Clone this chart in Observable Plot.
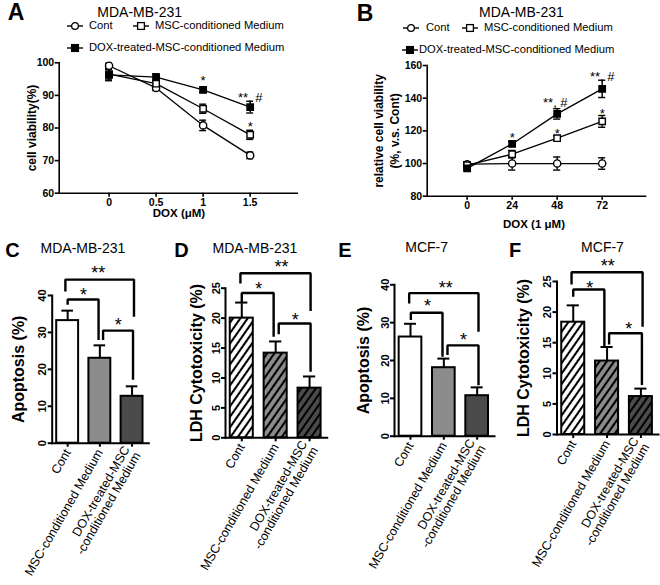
<!DOCTYPE html>
<html><head><meta charset="utf-8">
<script src="https://cdn.jsdelivr.net/npm/d3@7"></script>
<script src="https://cdn.jsdelivr.net/npm/@observablehq/plot@0.6"></script>
<style>
body{margin:0;background:#fff;}
#fig{position:relative;width:660px;height:585px;font-family:"Liberation Sans",Arial,sans-serif;overflow:hidden;background:#fff;color:#000;}
.abs{position:absolute;white-space:nowrap;line-height:1;}
</style></head><body><div id="fig"></div>
<script>
// ---------- data ----------
const seriesNames = ["Cont", "MSC-conditioned Medium", "DOX-treated-MSC-conditioned Medium"];
// Panel A: cell viability vs DOX dose
const doseA = [0, 0.5, 1, 1.5];
const contA = [99.1, 92.3, 80.8, 71.6];
const contAErr = [0.8, 0.8, 1.6, 1.0];
const mscA = [96.5, 93.6, 85.9, 77.9];
const mscAErr = [1.5, 1.0, 1.4, 1.4];
const doxA = [96.3, 95.6, 91.7, 86.4];
const doxAErr = [1.8, 1.0, 0.8, 1.8];
const yTicksA = [60, 70, 80, 90, 100];
const annotA = [{x: 1, y: 95.4, t: "*"}, {x: 1.5, y: 90.3, t: "**, #"}, {x: 1.5, y: 81.3, t: "*"}];
// Panel B: relative viability vs time
const timeB = [0, 24, 48, 72];
const contB = [99.6, 100, 100, 100];
const contBErr = [1.5, 4, 4, 3.5];
const mscB = [99, 105.7, 115.5, 125.8];
const mscBErr = [1, 2.3, 1.5, 3.6];
const doxB = [97, 112, 130.4, 145.7];
const doxBErr = [1, 1.5, 3.2, 5.3];
const yTicksB = [80, 100, 120, 140, 160];
const annotB = [{x: 24, y: 117.5, t: "*"}, {x: 47, y: 138.8, t: "**, #"}, {x: 72, y: 155, t: "**, #"}, {x: 48, y: 119.8, t: "*"}, {x: 72, y: 132.5, t: "*"}];
// Bar panels
const barLabels = ["Cont", "MSC-conditioned Medium", "DOX-treated-MSC\n-conditioned Medium"];
const apoMDA = [33.2, 23.0, 12.7];      const apoMDAErr = [2.7, 3.5, 2.7];
const ldhMDA = [20.0, 14.15, 8.3];      const ldhMDAErr = [2.6, 1.95, 1.95];
const apoMCF = [26.2, 18.1, 10.7];      const apoMCFErr = [3.5, 2.4, 2.2];
const ldhMCF = [18.35, 12.0, 6.2];      const ldhMCFErr = [2.75, 2.3, 1.3];
const apoTicks = [0, 10, 20, 30, 40];
const ldhTicks = [0, 5, 10, 15, 20, 25];
// significance brackets: [left x, right x, top, left-leg bottom, right-leg bottom]
const brC = [[0, 0.96, 38.9, 37.8, 28.3], [1.1, 2.03, 30.5, 28.3, 17.5], [-0.07, 2.06, 44.3, 41.4, 34.6]];
const brD = [[0, 0.94, 24.2, 22.9, 17.1], [1.09, 2.03, 19.1, 17.5, 11.25], [-0.04, 2.03, 27.5, 26.0, 21.4]];
const brE = [[0.01, 0.96, 32.6, 31.0, 21.3], [1.11, 2.04, 24.0, 21.8, 13.8], [-0.04, 2.04, 37.8, 35.4, 27.9]];
const brF = [[0, 0.92, 23.7, 22.7, 14.5], [1.06, 2.03, 16.55, 14.9, 8.3], [-0.05, 2.05, 26.5, 24.7, 17.8]];
const starsC = [{x: 0.49, y: 41.2, t: "*"}, {x: 1.57, y: 33.1, t: "*"}, {x: 0.95, y: 47.3, t: "**"}];
const starsD = [{x: 0.5, y: 25.6, t: "*"}, {x: 1.58, y: 20.45, t: "*"}, {x: 1.17, y: 29.2, t: "**"}];
const starsE = [{x: 0.51, y: 35.4, t: "*"}, {x: 1.59, y: 26.6, t: "*"}, {x: 1.06, y: 40.3, t: "**"}];
const starsF = [{x: 0.49, y: 24.6, t: "*"}, {x: 1.64, y: 17.9, t: "*"}, {x: 1.02, y: 28.3, t: "**"}];

// ---------- helpers ----------
const fig = document.getElementById("fig");
const FONT = '"Liberation Sans", Arial, sans-serif';
function place(node, left, top) {
  const w = document.createElement("div");
  w.style.cssText = `position:absolute;left:${left}px;top:${top}px;`;
  w.appendChild(node); fig.appendChild(w);
}
function txt(s, x, y, css, anchor) {
  const d = document.createElement("div");
  d.className = "abs"; d.textContent = s;
  const tx = anchor === "start" ? "0" : "-50%";
  d.style.cssText += `left:${x}px;top:${y}px;transform:translate(${tx},-50%);${css || ""}`;
  fig.appendChild(d);
}
function marker(kind) {
  const ns = "http://www.w3.org/2000/svg";
  const s = document.createElementNS(ns, "svg");
  s.setAttribute("width", 16); s.setAttribute("height", 10);
  s.style.display = "block";
  let shape = kind === "circle"
    ? `<circle cx="8" cy="5" r="3.4" fill="#fff" stroke="#000" stroke-width="1.3"/>`
    : `<rect x="4.6" y="1.6" width="6.8" height="6.8" fill="${kind === "filled" ? "#000" : "#fff"}" stroke="#000" stroke-width="1.3"/>`;
  s.innerHTML = `<line x1="0" x2="16" y1="5" y2="5" stroke="#000" stroke-width="1.4"/>` + shape;
  return s;
}
function legendItem(kind, label, mx, y, tx) {
  place(marker(kind), mx - 8, y - 5);
  txt(label, tx, y, "font-size:11.2px;", "start");
}
const rowsOf = (xs, ys, es, s) => xs.map((x, i) => ({x, y: ys[i], e: es[i], s}));

function linePanel(cfg) {
  const all = cfg.series.flatMap(s => s.rows);
  const c = cfg.cap;
  return Plot.plot({
    width: cfg.width, height: cfg.height,
    marginLeft: cfg.mL, marginRight: cfg.mR, marginTop: cfg.mT, marginBottom: cfg.mB,
    x: {domain: cfg.xDomain}, y: {domain: cfg.yDomain},
    style: {fontFamily: FONT, color: "#000", background: "none", overflow: "visible"},
    marks: [
      Plot.line(all, {x: "x", y: "y", z: "s", stroke: "#000", strokeWidth: 1.3}),
      Plot.ruleX(all, {x: "x", y1: d => d.y - d.e, y2: d => d.y + d.e, stroke: "#000", strokeWidth: 1.4}),
      Plot.ruleY(all, {y: d => d.y + d.e, x1: d => d.x - c, x2: d => d.x + c, stroke: "#000", strokeWidth: 1.4}),
      Plot.ruleY(all, {y: d => d.y - d.e, x1: d => d.x - c, x2: d => d.x + c, stroke: "#000", strokeWidth: 1.4}),
      ...cfg.series.map(s => Plot.dot(s.rows, {x: "x", y: "y", symbol: s.symbol, r: 3.6, fill: s.fill, stroke: "#000", strokeWidth: 1.4})),
      Plot.text(cfg.annots, {x: "x", y: "y", text: "t", fontSize: 13, dy: 3}),
      Plot.axisY({ticks: cfg.yTicks, tickSize: 4, tickPadding: 1, fontSize: 10.5, fontWeight: "bold", label: null, strokeWidth: 1.6}),
      Plot.axisX({ticks: cfg.xTicks, tickSize: 4, tickPadding: 1, fontSize: 10.5, fontWeight: "bold", label: null, strokeWidth: 1.6, tickFormat: d => String(d)}),
      Plot.frame({anchor: "left", strokeWidth: 1.6}),
      Plot.frame({anchor: "bottom", strokeWidth: 1.6}),
      Plot.text([cfg.yLabel], {text: d => d, frameAnchor: "left", textAnchor: "middle", lineAnchor: "middle", rotate: -90, dx: cfg.ldx, fontSize: 12, fontWeight: "bold", lineHeight: 1.38})
    ]
  });
}

function barPanel(cfg) {
  const rows = cfg.values.map((v, i) => ({i, v, e: cfg.errs[i], f: cfg.fills[i]}));
  const hw = 0.34, cap = 0.18;
  const bpts = cfg.brackets.flatMap((b, k) => [
    {k, x: b[0], y: b[3]}, {k, x: b[0], y: b[2]}, {k, x: b[1], y: b[2]}, {k, x: b[1], y: b[4]}
  ]);
  const svg = Plot.plot({
    width: cfg.width, height: 335,
    marginLeft: cfg.mL, marginRight: cfg.mR, marginTop: cfg.mT, marginBottom: cfg.mB,
    x: {domain: [-0.48, 2.52]}, y: {domain: cfg.yDomain},
    color: {type: "identity"},
    style: {fontFamily: FONT, color: "#000", background: "none", overflow: "visible"},
    marks: [
      Plot.ruleX(rows, {x: "i", y1: "v", y2: d => d.v + d.e, stroke: "#000", strokeWidth: 2}),
      Plot.ruleY(rows, {y: d => d.v + d.e, x1: d => d.i - cap, x2: d => d.i + cap, stroke: "#000", strokeWidth: 2}),
      Plot.rect(rows, {x1: d => d.i - hw, x2: d => d.i + hw, y1: 0, y2: "v", fill: "f", stroke: "#000", strokeWidth: 2}),
      Plot.line(bpts, {x: "x", y: "y", z: "k", stroke: "#000", strokeWidth: 2.4, strokeLinejoin: "miter", strokeLinecap: "square"}),
      Plot.text(cfg.stars, {x: "x", y: "y", text: "t", fontSize: 18, dy: 4.5}),
      Plot.axisY({ticks: cfg.yTicks, tickSize: 4, tickPadding: 2, tickRotate: -90, fontSize: 11, fontWeight: "bold", label: null, strokeWidth: 2}),
      Plot.axisX({ticks: [0, 1, 2], tickFormat: i => barLabels[i], tickRotate: -60, tickSize: 4, tickPadding: 3, fontSize: 12.5, label: null, strokeWidth: 2}),
      Plot.frame({anchor: "left", strokeWidth: 2}),
      Plot.frame({anchor: "bottom", strokeWidth: 2}),
      Plot.text([cfg.yLabel], {text: d => d, frameAnchor: "left", textAnchor: "middle", lineAnchor: "middle", rotate: -90, dx: cfg.ldx, fontSize: 16, fontWeight: "bold"})
    ]
  });
  if (cfg.patterns) {
    const defs = d3.select(svg).insert("defs", ":first-child");
    cfg.patterns.forEach(p => {
      const pat = defs.append("pattern").attr("id", p.id).attr("patternUnits", "userSpaceOnUse")
        .attr("width", 6).attr("height", 6).attr("patternTransform", "rotate(35)");
      pat.append("rect").attr("width", 6).attr("height", 6).attr("fill", p.bg);
      pat.append("line").attr("x1", 3).attr("x2", 3).attr("y1", -1).attr("y2", 7).attr("stroke", "#000").attr("stroke-width", 2.1);
    });
  }
  return svg;
}

// ---------- panel A ----------
place(linePanel({
  width: 330, height: 232, mL: 58.7, mR: 33.3, mT: 62.3, mB: 39.3,
  xDomain: [-0.53, 2.0], yDomain: [60, 100], xTicks: doseA, yTicks: yTicksA, cap: 0.037,
  series: [
    {rows: rowsOf(doseA, contA, contAErr, seriesNames[0]), symbol: "circle", fill: "#fff"},
    {rows: rowsOf(doseA, mscA, mscAErr, seriesNames[1]), symbol: "square", fill: "#fff"},
    {rows: rowsOf(doseA, doxA, doxAErr, seriesNames[2]), symbol: "square", fill: "#000"}
  ],
  annots: annotA, yLabel: "cell viability(%)", ldx: -28.7
}), 0, 0);

// ---------- panel B ----------
place(linePanel({
  width: 330, height: 240, mL: 96.7, mR: 15, mT: 65, mB: 44.3,
  xDomain: [-21.3, 95.1], yDomain: [80, 160], xTicks: timeB, yTicks: yTicksB, cap: 1.9,
  series: [
    {rows: rowsOf(timeB, contB, contBErr, seriesNames[0]), symbol: "circle", fill: "#fff"},
    {rows: rowsOf(timeB, mscB, mscBErr, seriesNames[1]), symbol: "square", fill: "#fff"},
    {rows: rowsOf(timeB, doxB, doxBErr, seriesNames[2]), symbol: "square", fill: "#000"}
  ],
  annots: annotB, yLabel: "relative cell viability\n(%, v.s. Cont)", ldx: -41.7
}), 330, 0);

// ---------- bar panels ----------
const solidFills = ["#ffffff", "#8c8c8c", "#4b4b4b"];
place(barPanel({width: 160, mL: 51.7, mR: 11.7, mT: 45, mB: 142.3, yDomain: [0, 40], yTicks: apoTicks,
  values: apoMDA, errs: apoMDAErr, fills: solidFills, brackets: brC, stars: starsC, yLabel: "Apoptosis (%)", ldx: -33.4}), 0, 250);
place(barPanel({width: 170, mL: 65, mR: 3.3, mT: 37.7, mB: 147.7, yDomain: [0, 25], yTicks: ldhTicks,
  values: ldhMDA, errs: ldhMDAErr, fills: ["url(#hD0)", "url(#hD1)", "url(#hD2)"],
  patterns: [{id: "hD0", bg: solidFills[0]}, {id: "hD1", bg: solidFills[1]}, {id: "hD2", bg: solidFills[2]}],
  brackets: brD, stars: starsD, yLabel: "LDH Cytotoxicity (%)", ldx: -28.3}), 160, 250);
place(barPanel({width: 168, mL: 64, mR: 4, mT: 34.3, mB: 149.3, yDomain: [0, 40], yTicks: apoTicks,
  values: apoMCF, errs: apoMCFErr, fills: solidFills, brackets: brE, stars: starsE, yLabel: "Apoptosis (%)", ldx: -30.7}), 330, 250);
place(barPanel({width: 162, mL: 58.5, mR: 2, mT: 31, mB: 151, yDomain: [0, 25], yTicks: ldhTicks,
  values: ldhMCF, errs: ldhMCFErr, fills: ["url(#hF0)", "url(#hF1)", "url(#hF2)"],
  patterns: [{id: "hF0", bg: solidFills[0]}, {id: "hF1", bg: solidFills[1]}, {id: "hF2", bg: solidFills[2]}],
  brackets: brF, stars: starsF, yLabel: "LDH Cytotoxicity (%)", ldx: -33}), 498, 250);

// ---------- texts ----------
const L = "font-weight:bold;";
txt("A", 16, 12, L + "font-size:23px;"); txt("B", 365, 13, L + "font-size:23px;");
txt("C", 12.5, 250, L + "font-size:20px;"); txt("D", 181.5, 250, L + "font-size:20px;");
txt("E", 345, 250, L + "font-size:20px;"); txt("F", 515, 250, L + "font-size:20px;");
txt("MDA-MB-231", 139.7, 11.7, "font-size:14px;"); txt("MDA-MB-231", 521.5, 12, "font-size:14px;");
txt("MDA-MB-231", 83, 248.3, "font-size:14px;"); txt("MDA-MB-231", 255, 248.3, "font-size:14px;");
txt("MCF-7", 426.7, 246.7, "font-size:14px;"); txt("MCF-7", 602.5, 246.7, "font-size:14px;");
txt("DOX (\u03bcM)", 179, 214, L + "font-size:11.5px;");
txt("DOX (1 \u03bcM)", 534, 225, L + "font-size:11.5px;");
legendItem("circle", seriesNames[0], 74.5, 26, 89);
legendItem("square", seriesNames[1], 140.5, 26, 155);
legendItem("filled", seriesNames[2], 74.5, 47.7, 89);
legendItem("circle", seriesNames[0], 410.5, 28, 426);
legendItem("square", seriesNames[1], 470, 28, 484);
legendItem("filled", seriesNames[2], 409.5, 50, 419);
</script></body></html>
